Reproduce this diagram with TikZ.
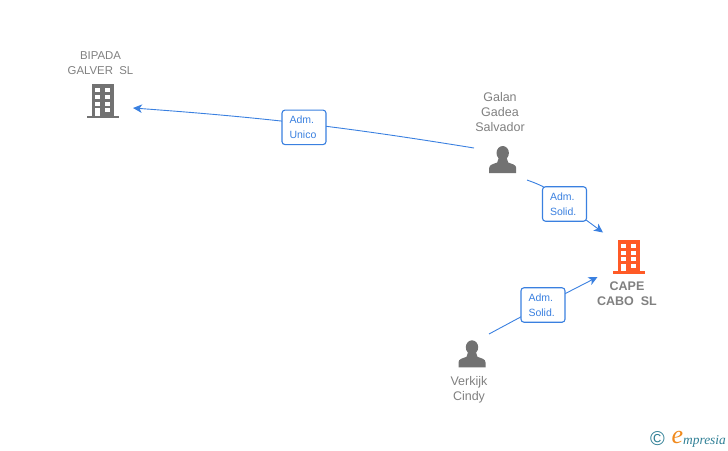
\documentclass[tikz,border=0pt]{standalone}
\usepackage{fontspec}
\setmainfont{Liberation Sans}
\newfontfamily\logofont{Liberation Serif}
\usetikzlibrary{arrows.meta}
\usetikzlibrary{positioning}
\definecolor{linkblue}{HTML}{3A80E0}
\definecolor{icongray}{HTML}{727272}
\definecolor{textgray}{HTML}{808080}
\definecolor{capeorange}{HTML}{FF5A26}
\definecolor{logoteal}{HTML}{2F7F95}
\definecolor{logoorange}{HTML}{F08A1E}
\tikzset{
    link/.style={draw=linkblue, line width=0.9pt, -{Stealth[length=9pt,width=8.5pt,inset=2.5pt]}},
    rolebox/.style={rectangle, rounded corners=3pt, draw=linkblue, line width=1.1pt, fill=white, text=linkblue, font=\fontsize{10.5}{15}\selectfont, align=left, minimum width=44pt, minimum height=34.5pt, inner sep=0pt, text width=29pt},
    company/.style={text=textgray, font=\fontsize{11.4}{15}\selectfont, align=center, inner sep=0pt},
    cape/.style={text=textgray, font=\fontsize{12.5}{15}\selectfont\bfseries, align=center, inner sep=0pt},
    person/.style={text=textgray, font=\fontsize{12.5}{15}\selectfont, align=center, inner sep=0pt},
    building/.pic={
        \fill[pic actions] (-11.3,-34) rectangle (11.3,-2);
        \fill[pic actions] (-15.7,-2.7) rectangle (15.7,0);
        \foreach \row in {-30,-23.3,-16.6} {
            \fill[white] (-7.7,\row) rectangle +(4.7,4);
            \fill[white] (2.3,\row) rectangle +(4.7,4);
        }
        \fill[white] (-7.7,-10) rectangle (-3,-2.7);
        \fill[white] (2.3,-10) rectangle (7,-6);
    },
    personicon/.pic={
        \fill[pic actions] (0,-20) ellipse (6.2pt and 7pt);
        \fill[pic actions] (-13.5,0) -- (-13.5,-5) .. controls (-13.5,-8.5) and (-9,-9) .. (-5.5,-10.5) -- (-4,-15) -- (4,-15) -- (5.5,-10.5) .. controls (9,-9) and (13.5,-8.5) .. (13.5,-5) -- (13.5,0) -- cycle;
    },
}
\begin{document}
\begin{tikzpicture}[x=1pt,y=-1pt]
    \useasboundingbox (0,0) rectangle (728,450);
    % icons
    \pic [fill=icongray] at (103,118.3) {building};
    \pic [fill=capeorange] at (629,274) {building};
    \pic [fill=icongray] at (502.7,173) {personicon};
    \pic [fill=icongray] at (472,367.3) {personicon};
    % names
    \node (bipada) [company] at (100.5,63) {BIPADA\\GALVER~~SL};
    \node (galan) [person] at (500,112) {Galan\\Gadea\\Salvador};
    \node (cape) [cape] at (627,294) {CAPE\\CABO~~SL};
    \node (verkijk) [person] at (469,390) {Verkijk\\Cindy};
    % link ends
    \coordinate (galan out 0) at (474,148);
    \coordinate (bipada in) at (133,108);
    \coordinate (galan out 1) at (527,180);
    \coordinate (cape in 0) at (603,232.5);
    \coordinate (verkijk out) at (489,334);
    \coordinate (cape in 1) at (597.5,277);
    % links
    \draw [link] (galan out 0) to[bend right=2.5] node (role unico) [rolebox, pos=0.5, yshift=-3.7pt] {Adm.\\Unico} (bipada in);
    \draw [link] (galan out 1) .. controls (541,185) and (553,190) .. (564.5,204) node (role solid 0) [rolebox] {Adm.\\Solid.} -- (cape in 0);
    \draw [link] (verkijk out) -- (543,305) node (role solid 1) [rolebox] {Adm.\\Solid.} -- (cape in 1);
    % logo
    \node (logo c) [text=logoteal, font=\fontsize{20}{20}\selectfont, inner sep=0pt] at (657.5,439) {\textcopyright};
    \node (logo e) [text=logoorange, font=\logofont\itshape\fontsize{26}{26}\selectfont, inner sep=0pt] at (677.5,437.5) {e};
    \node (logo text) [text=logoteal, font=\logofont\itshape\fontsize{13.4}{13.4}\selectfont, inner sep=0pt, anchor=base west] at (683,444) {mpresia};
\end{tikzpicture}
\end{document}
